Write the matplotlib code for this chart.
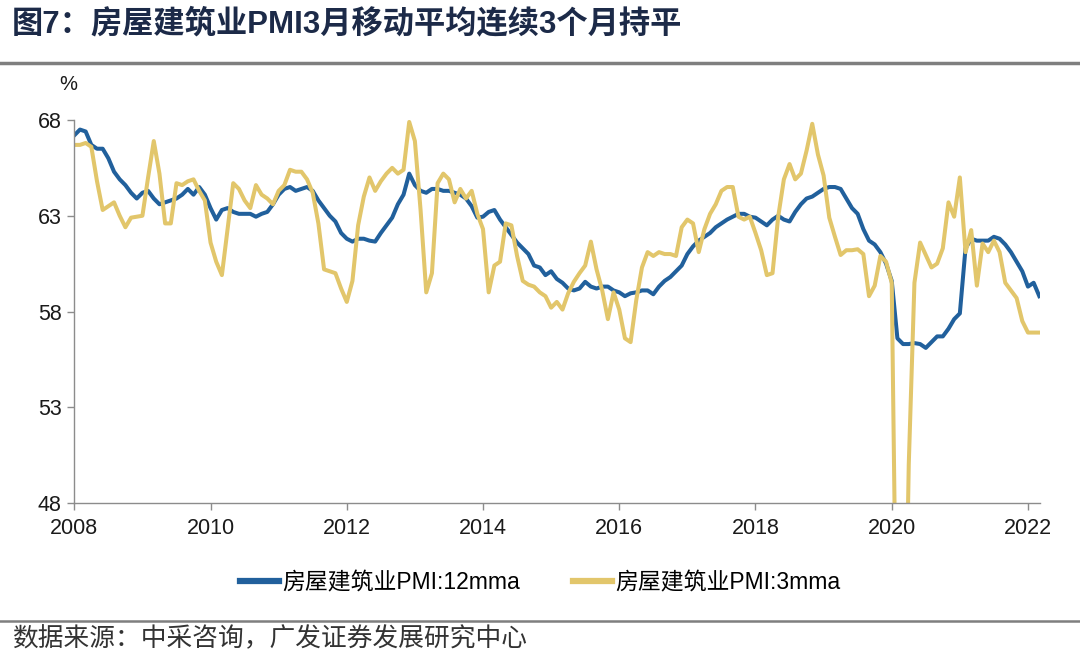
import numpy as np
import matplotlib.pyplot as plt
from matplotlib.lines import Line2D

plt.rcParams["font.family"] = ["Liberation Sans", "Noto Sans CJK SC"]

title = "图7：房屋建筑业PMI3月移动平均连续3个月持平"
source = "数据来源：中采咨询，广发证券发展研究中心"
series_names = ["房屋建筑业PMI:12mma", "房屋建筑业PMI:3mma"]

start_year = 2008
x_ticks = [2008, 2010, 2012, 2014, 2016, 2018, 2020, 2022]
y_ticks = [48, 53, 58, 63, 68]

# monthly values, Jan 2008 .. Mar 2022
pmi_12mma = [
  67.2, 67.5, 67.4, 66.7, 66.5, 66.5, 66.0, 65.3, 64.9, 64.6, 64.2, 63.9,
  64.2, 64.3, 63.9, 63.6, 63.7, 63.8, 63.9, 64.1, 64.4, 64.1, 64.5, 64.1,
  63.4, 62.8, 63.3, 63.4, 63.2, 63.1, 63.1, 63.1, 62.95, 63.1, 63.2, 63.6,
  64.1, 64.4, 64.5, 64.3, 64.4, 64.5, 64.3, 63.8, 63.4, 63.0, 62.7, 62.1,
  61.8, 61.65, 61.8, 61.8, 61.7, 61.65, 62.1, 62.5, 62.9, 63.6, 64.1, 65.2,
  64.6, 64.3, 64.2, 64.4, 64.4, 64.3, 64.3, 64.2, 64.1, 63.9, 63.5, 62.9,
  62.95, 63.2, 63.3, 62.8, 62.4, 62.0, 61.6, 61.3, 61.0, 60.4, 60.3, 59.9,
  60.1, 59.7, 59.5, 59.2, 59.1, 59.2, 59.55, 59.3, 59.2, 59.3, 59.3, 59.1,
  59.0, 58.8, 58.95, 59.0, 59.1, 59.1, 58.9, 59.3, 59.6, 59.8, 60.1, 60.4,
  61.0, 61.4, 61.7, 61.9, 62.1, 62.4, 62.6, 62.8, 62.95, 63.1, 63.1, 62.95,
  62.9, 62.7, 62.5, 62.8, 63.0, 62.8, 62.7, 63.2, 63.6, 63.9, 64.0, 64.2,
  64.4, 64.5, 64.5, 64.4, 63.9, 63.4, 63.1, 62.3, 61.7, 61.5, 61.1, 60.5,
  59.6, 56.6, 56.3, 56.3, 56.35, 56.3, 56.1, 56.4, 56.7, 56.7, 57.1, 57.6,
  57.9, 61.3, 61.8, 61.7, 61.7, 61.7, 61.9, 61.8, 61.5, 61.1, 60.6, 60.1,
  59.3, 59.5, 58.8,
]

pmi_3mma = [
  66.7, 66.7, 66.8, 66.6, 64.8, 63.3, 63.5, 63.7, 63.0, 62.4, 62.9, 62.95,
  63.0, 65.0, 66.9, 65.2, 62.6, 62.6, 64.7, 64.6, 64.8, 64.9, 64.3, 63.8,
  61.6, 60.6, 59.9, 62.3, 64.7, 64.4, 63.8, 63.4, 64.6, 64.1, 63.9, 63.6,
  64.3, 64.6, 65.4, 65.3, 65.3, 64.9, 64.2, 62.6, 60.2, 60.1, 60.0, 59.2,
  58.5, 59.6, 62.5, 64.0, 65.0, 64.3, 64.8, 65.2, 65.5, 65.2, 65.4, 67.9,
  66.9, 63.3, 59.0, 60.0, 64.7, 65.2, 64.9, 63.7, 64.4, 63.9, 64.3, 63.1,
  62.3, 59.0, 60.4, 60.6, 62.6, 62.5, 60.9, 59.6, 59.4, 59.3, 59.0, 58.8,
  58.2, 58.5, 58.1, 58.95, 59.55, 60.0, 60.4, 61.65, 60.2, 59.1, 57.6, 59.0,
  58.1, 56.6, 56.4, 58.6, 60.3, 61.1, 60.9, 61.1, 61.0, 61.0, 60.9, 62.4,
  62.8, 62.6, 61.1, 62.3, 63.1, 63.6, 64.3, 64.5, 64.5, 62.95, 62.8, 62.95,
  62.1, 61.2, 59.9, 60.0, 62.95, 64.9, 65.7, 64.9, 65.2, 66.4, 67.8, 66.2,
  65.1, 62.9, 61.9, 60.95, 61.2, 61.2, 61.25, 61.0, 58.8, 59.35, 60.9, 60.6,
  59.5, 36.0, 33.0, 50.0, 59.5, 61.6, 60.95, 60.3, 60.5, 61.3, 63.7, 62.95,
  65.0, 61.1, 62.25, 59.35, 61.55, 61.1, 61.7, 61.1, 59.5, 59.1, 58.7, 57.5,
  56.9, 56.9, 56.9,
]

blue = "#21609c"
gold = "#e2c66b"
grey = "#8c8c8c"


def fig_y(px):
  """Convert a pixel row (from top) to figure coordinates."""
  return 1 - px / 661


months = np.arange(len(pmi_12mma))
x = start_year + months / 12

fig = plt.figure(figsize=(10.8, 6.61), dpi=100)
ax = fig.add_axes([74.3 / 1080, fig_y(503), (1040 - 74.3) / 1080, (503 - 120) / 661])

ax.plot(x, pmi_12mma, color=blue, lw=2.9, label=series_names[0], solid_joinstyle="round")
ax.plot(x, pmi_3mma, color=gold, lw=2.9, label=series_names[1], solid_joinstyle="round")

ax.set_xlim(start_year, x[-1] + 0.01)
ax.set_ylim(48, 68)
ax.set_xticks(x_ticks)
ax.set_xticklabels([str(t) for t in x_ticks])
ax.set_yticks(y_ticks)
ax.set_yticklabels([str(t) for t in y_ticks])
ax.tick_params(axis="both", direction="out", length=5, width=1, color=grey,
               labelsize=15.5, labelcolor="#1a1a1a", pad=4)
ax.tick_params(axis="x", pad=6)
for side in ["top", "right"]:
  ax.spines[side].set_visible(False)
for side in ["left", "bottom"]:
  ax.spines[side].set_color(grey)
  ax.spines[side].set_linewidth(1)

fig.text(68 / 1080, fig_y(84), "%", fontsize=14.5, ha="center", va="center", color="#1a1a1a")

leg = fig.legend(loc="center", bbox_to_anchor=(0.5, fig_y(583)), ncol=2, frameon=False,
                 fontsize=16.5, handlelength=1.7, handletextpad=0.15, columnspacing=2.3)
for line in leg.get_lines():
  line.set_linewidth(4.5)

fig.text(12 / 1080, fig_y(24), title, fontsize=22.5, fontweight="bold", color="#1c2a48",
         ha="left", va="center")
fig.add_artist(Line2D([0, 1], [fig_y(63), fig_y(63)], color="#7f7f7f", lw=2.5,
                      transform=fig.transFigure))
fig.add_artist(Line2D([0, 1], [fig_y(621), fig_y(621)], color="#7f7f7f", lw=1.8,
                      transform=fig.transFigure))
fig.text(12 / 1080, fig_y(639), source, fontsize=18.5, color="#333333", ha="left", va="center")

fig.savefig("out.png", dpi=100)
